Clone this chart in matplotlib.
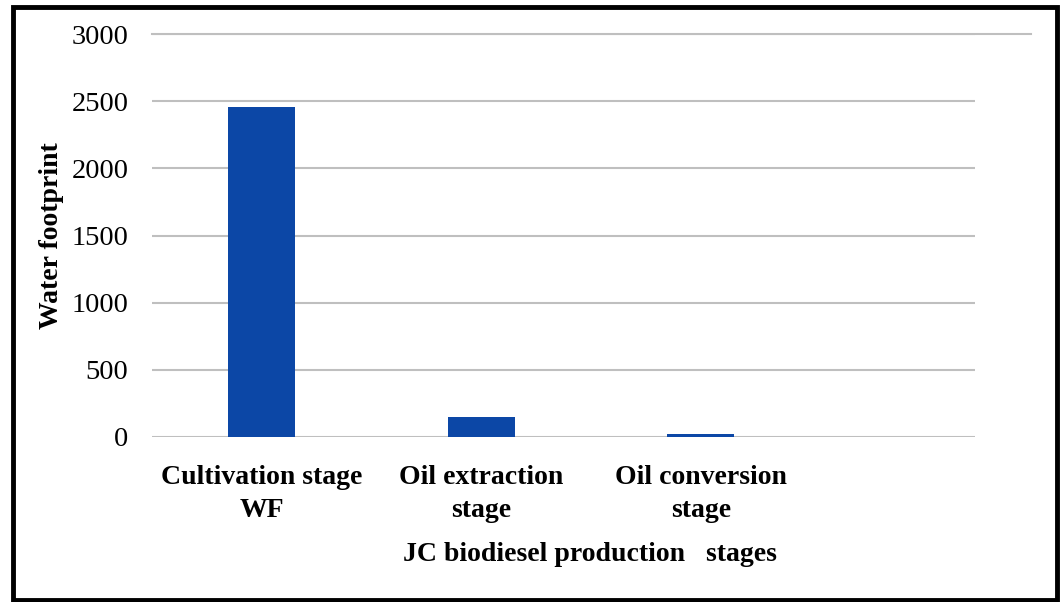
import matplotlib.pyplot as plt
import matplotlib.transforms as mtransforms
from matplotlib.patches import Rectangle

categories = ["Cultivation stage\nWF", "Oil extraction\nstage", "Oil conversion\nstage"]
water_fp = [2460, 150, 20]
yticks = [0, 500, 1000, 1500, 2000, 2500, 3000]

plt.rcParams["font.family"] = ["Liberation Serif", "DejaVu Serif"]

fig = plt.figure(figsize=(10.61, 6.02), dpi=100, facecolor="white")
ax = fig.add_axes([0.1433, 0.2741, 0.7757, 0.6694])

x = list(range(len(categories)))
ax.bar(x, water_fp, width=0.305, color="#0c47a6", zorder=3)

ax.set_ylim(0, 3000)
ax.set_xlim(-0.5, 3.25)
ax.set_yticks(yticks)
ax.set_yticklabels([str(v) for v in yticks], fontsize=20.5)
ax.set_xticks(x)
ax.set_xticklabels(categories, fontsize=20, fontweight="bold", linespacing=1.45)
ax.tick_params(axis="y", length=0, pad=17)
ax.tick_params(axis="x", length=0, pad=20)

ax.grid(axis="y", color="#bfbfbf", linewidth=1.5, zorder=0)
for s in ax.spines.values():
    s.set_visible(False)

# top gridline runs a bit past the plot in the original
trans = mtransforms.blended_transform_factory(ax.transAxes, ax.transData)
ax.plot([0.0, 1.068], [3000, 3000], color="#bfbfbf", linewidth=1.5,
        transform=trans, clip_on=False)

ax.set_ylabel("Water footprint", fontsize=20, fontweight="bold")
ax.yaxis.set_label_coords(-0.107, 0.5)
ax.set_xlabel("JC biodiesel production   stages", fontsize=20, fontweight="bold")
ax.xaxis.set_label_coords(0.532, -0.26)

# black frame around the figure
fig.patches.append(Rectangle((0.0123, 0.003), 0.984, 0.985, transform=fig.transFigure,
                             fill=False, edgecolor="black", linewidth=3.5))

fig.savefig("out.png", dpi=100, facecolor="white")
